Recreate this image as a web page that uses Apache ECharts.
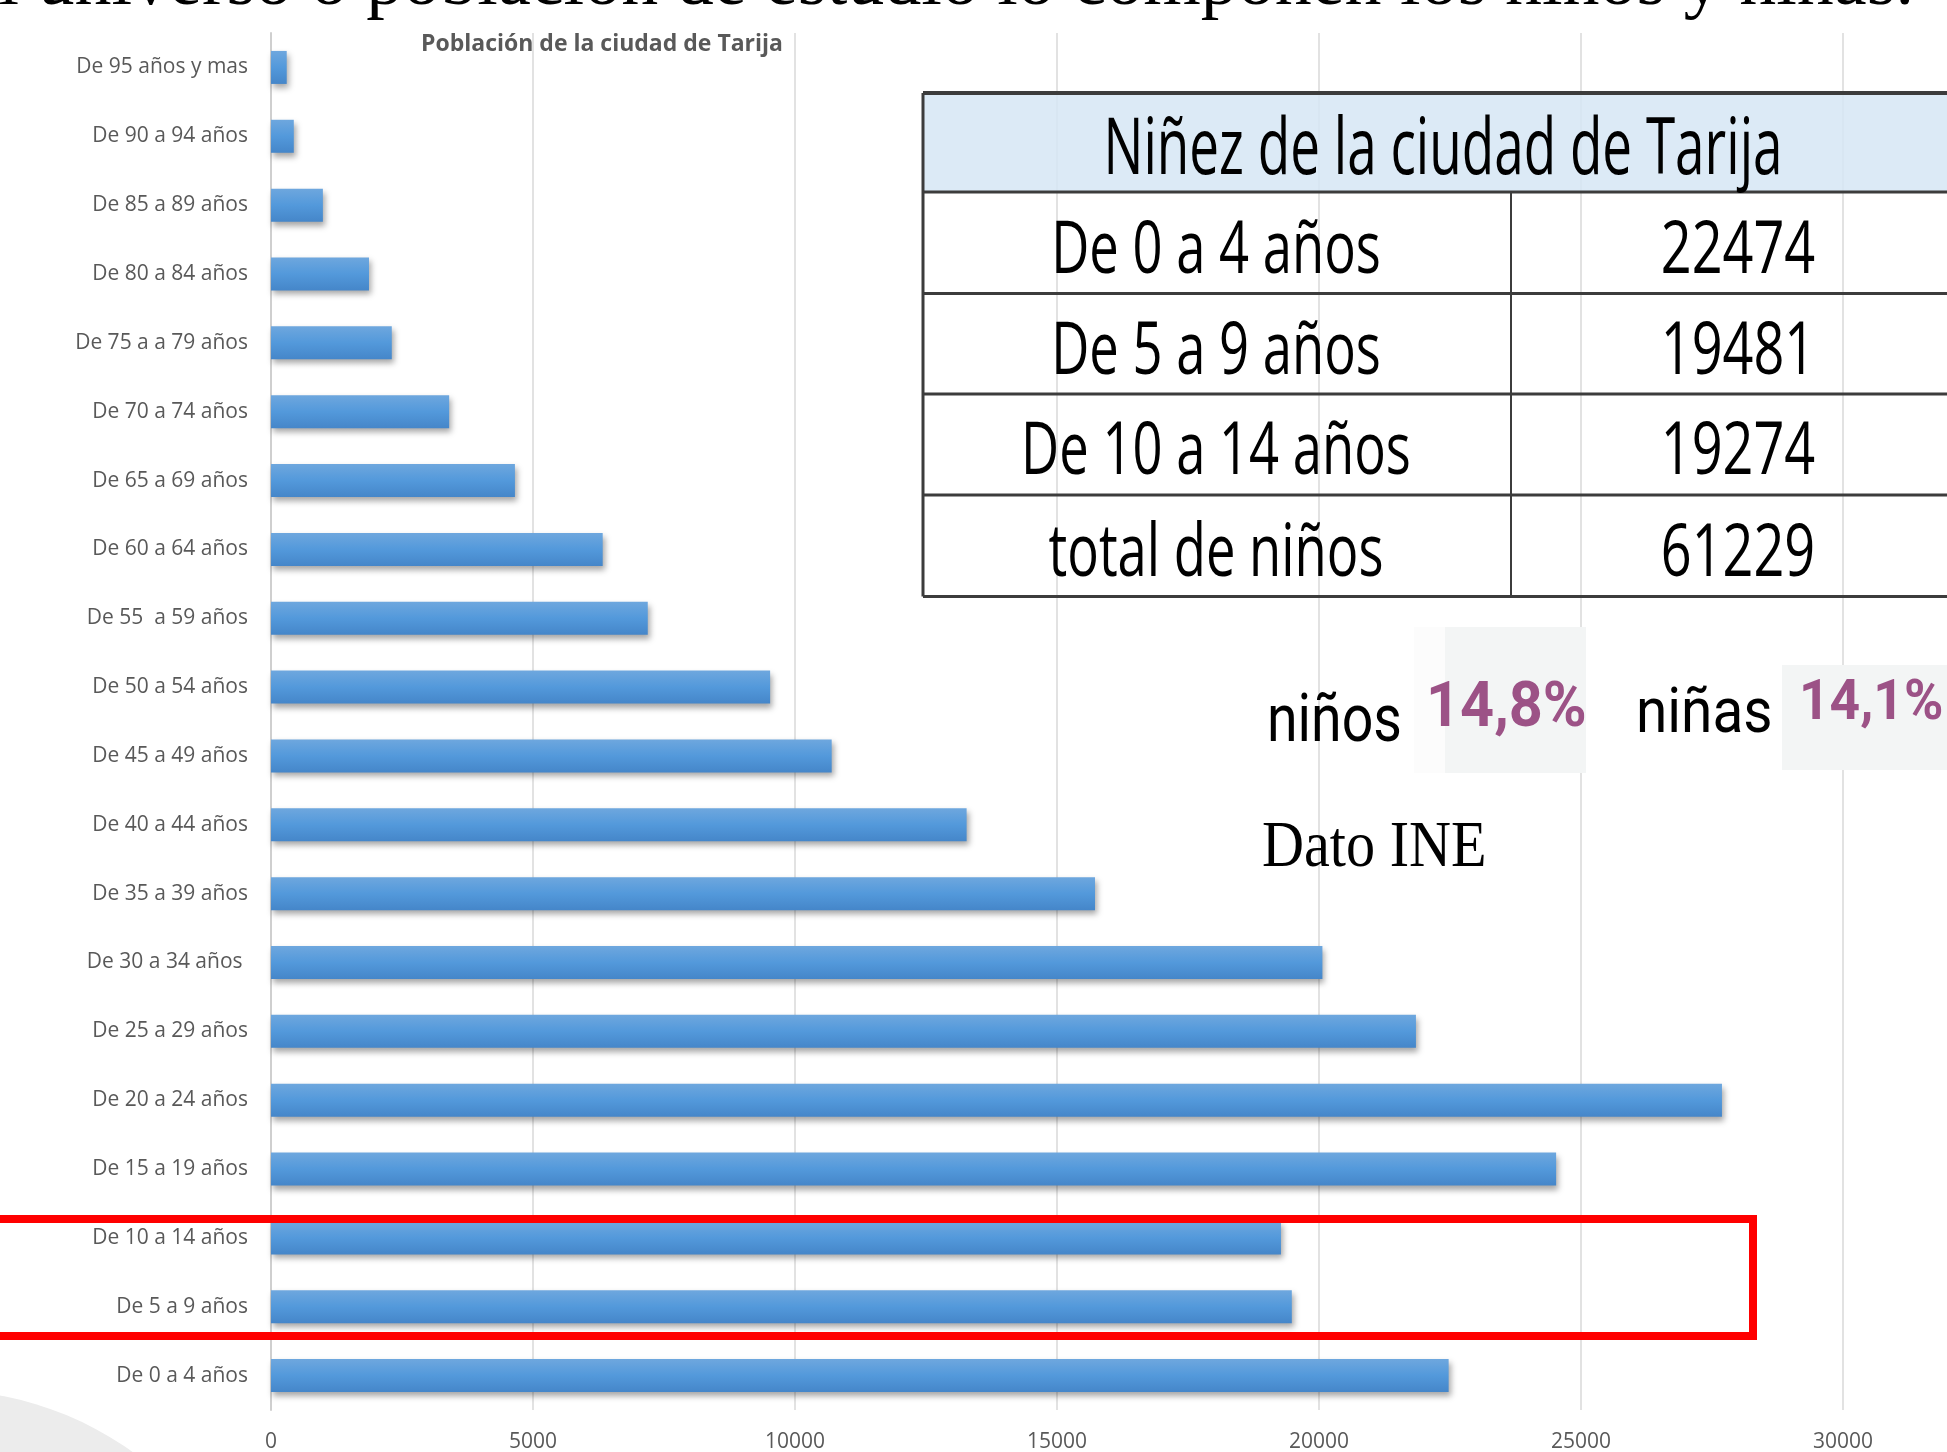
<!DOCTYPE html>
<html>
<head>
<meta charset="utf-8">
<script src="https://cdn.jsdelivr.net/npm/echarts@6/dist/echarts.min.js"></script>
<style>
html,body{margin:0;padding:0;background:#fff;}
#c{width:1947px;height:1452px;}
</style>
</head>
<body>
<div id="c"></div>
<script>
// ---- data ----
const categories = ['De 95 años y mas','De 90 a 94 años','De 85 a 89 años','De 80 a 84 años','De 75 a a 79 años','De 70 a 74 años','De 65 a 69 años','De 60 a 64 años','De 55  a 59 años','De 50 a 54 años','De 45 a 49 años','De 40 a 44 años','De 35 a 39 años','De 30 a 34 años ','De 25 a 29 años','De 20 a 24 años','De 15 a 19 años','De 10 a 14 años','De 5 a 9 años','De 0 a 4 años'];
const population = [300, 435, 990, 1870, 2305, 3400, 4655, 6330, 7190, 9525, 10700, 13275, 15725, 20065, 21850, 27690, 24525, 19274, 19481, 22474];
const xTicks = [0, 5000, 10000, 15000, 20000, 25000, 30000];
const chartTitle = 'Población de la ciudad de Tarija';
const headline = 'El universo o población de estudio lo componen los niños y niñas.';
const tableTitle = 'Niñez de la ciudad de Tarija';
const tableRows = ['De 0 a 4 años','De 5 a 9 años','De 10 a 14 años','total de niños'];
const tableValues = ['22474','19481','19274','61229'];
const boysLabel = 'niños', boysPct = '14,8%';
const girlsLabel = 'niñas', girlsPct = '14,1%';
const sourceNote = 'Dato INE';

const chart = echarts.init(document.getElementById('c'), null, {renderer:'canvas'});

const lineColor = '#3c3c3c';
const tblLeft = 923, tblRight = 1960, tblTop = 93, hdrBottom = 192, colDiv = 1511;
const rowLines = [192, 293.5, 394, 495, 596.5];

const graphics = [];
// bottom-left gray shape
graphics.push({type:'circle', z:-10, shape:{cx:-60, cy:1720, r:330}, style:{fill:'#ececec'}});
// headline (cut off at top)
graphics.push({type:'text', z:50, x:1914, y:-15, style:{text:headline, x:0, y:0, textAlign:'right', textVerticalAlign:'middle', font:'74px "Liberation Serif"', fill:'#000'}});
// chart title
graphics.push({type:'text', z:50, x:602, y:44, style:{text:chartTitle, x:0, y:0, textAlign:'center', textVerticalAlign:'middle', font:'bold 23px "Open Sans"', fill:'#595959'}});
// table header fill
graphics.push({type:'rect', z:20, shape:{x:tblLeft, y:tblTop, width:tblRight-tblLeft, height:hdrBottom-tblTop}, style:{fill:'rgba(214,230,245,0.85)'}});
// table lines
graphics.push({type:'line', z:30, shape:{x1:tblLeft, y1:tblTop, x2:tblRight, y2:tblTop}, style:{stroke:lineColor, lineWidth:4}});
rowLines.forEach(y => graphics.push({type:'line', z:30, shape:{x1:tblLeft, y1:y, x2:tblRight, y2:y}, style:{stroke:lineColor, lineWidth:3}}));
graphics.push({type:'line', z:30, shape:{x1:tblLeft, y1:tblTop, x2:tblLeft, y2:rowLines[4]}, style:{stroke:lineColor, lineWidth:3}});
graphics.push({type:'line', z:30, shape:{x1:colDiv, y1:hdrBottom, x2:colDiv, y2:rowLines[4]}, style:{stroke:lineColor, lineWidth:2}});
// table texts
graphics.push({type:'text', z:40, x:1443, y:152, scaleX:0.68, style:{text:tableTitle, x:0, y:0, textAlign:'center', textVerticalAlign:'middle', font:'78px "Open Sans"', fill:'#000'}});
tableRows.forEach((t, i) => {
  const cy = (rowLines[i] + rowLines[i+1]) / 2 + 9;
  graphics.push({type:'text', z:40, x:1216, y:cy, scaleX:0.72, style:{text:t, x:0, y:0, textAlign:'center', textVerticalAlign:'middle', font:'73px "Open Sans"', fill:'#000'}});
  graphics.push({type:'text', z:40, x:1738, y:cy, scaleX:0.74, style:{text:tableValues[i], x:0, y:0, textAlign:'center', textVerticalAlign:'middle', font:'73px "Open Sans"', fill:'#000'}});
});
// percentage boxes
graphics.push({type:'rect', z:20, shape:{x:1414, y:627, width:31, height:146}, style:{fill:'#fcfcfc'}});
graphics.push({type:'rect', z:20, shape:{x:1445, y:627, width:141, height:146}, style:{fill:'#f3f5f5'}});
graphics.push({type:'rect', z:20, shape:{x:1782, y:665, width:170, height:105}, style:{fill:'#f3f5f5'}});
graphics.push({type:'text', z:40, x:1267, y:724, scaleX:0.84, style:{text:boysLabel, x:0, y:0, textAlign:'left', textVerticalAlign:'middle', font:'66px Roboto', fill:'#000'}});
graphics.push({type:'text', z:40, x:1426, y:710, scaleX:0.9, scaleY:0.94, style:{text:boysPct, x:0, y:0, textAlign:'left', textVerticalAlign:'middle', font:'bold 66px Roboto', fill:'#9c5286'}});
graphics.push({type:'text', z:40, x:1636, y:716, scaleX:0.9, style:{text:girlsLabel, x:0, y:0, textAlign:'left', textVerticalAlign:'middle', font:'63px Roboto', fill:'#000'}});
graphics.push({type:'text', z:40, x:1799, y:705, scaleX:0.97, style:{text:girlsPct, x:0, y:0, textAlign:'left', textVerticalAlign:'middle', font:'bold 55px Roboto', fill:'#9c5286'}});
// source note
graphics.push({type:'text', z:40, x:1262, y:849, scaleX:0.97, scaleY:1.08, style:{text:sourceNote, x:0, y:0, textAlign:'left', textVerticalAlign:'middle', font:'60px "Liberation Serif"', fill:'#000'}});
// red highlight rectangle
graphics.push({type:'rect', z:60, shape:{x:-20, y:1219, width:1773, height:117}, style:{fill:'none', stroke:'#ff0000', lineWidth:8}});

chart.setOption({
  animation:false,
  backgroundColor:'#ffffff',
  grid:{left:271, right:104, top:33, bottom:42, outerBoundsMode:'none', containLabel:false},
  xAxis:{
    type:'value', min:xTicks[0], max:xTicks[xTicks.length-1], interval:xTicks[1]-xTicks[0],
    axisLine:{show:false}, axisTick:{show:false},
    splitLine:{show:true, lineStyle:{color:'#d9d9d9', width:1.5}},
    axisLabel:{show:true, margin:22, fontSize:21, fontFamily:'Open Sans', color:'#595959', formatter:v => String(v)}
  },
  yAxis:{
    type:'category', data:categories, inverse:true,
    axisLine:{show:true, lineStyle:{color:'#cfcfcf', width:2}},
    axisTick:{show:false},
    splitLine:{show:false},
    axisLabel:{show:true, margin:23, fontSize:21, fontFamily:'Open Sans', color:'#595959'}
  },
  series:[{
    type:'bar', data:population, barWidth:33, z:5,
    itemStyle:{
      color:new echarts.graphic.LinearGradient(0,0,0,1,[
        {offset:0, color:'#6ea7de'},
        {offset:0.5, color:'#5399db'},
        {offset:1, color:'#4586c9'}
      ]),
      shadowColor:'rgba(0,0,0,0.35)', shadowBlur:6, shadowOffsetX:2, shadowOffsetY:4
    }
  }],
  graphic:graphics
});
</script>
</body>
</html>
